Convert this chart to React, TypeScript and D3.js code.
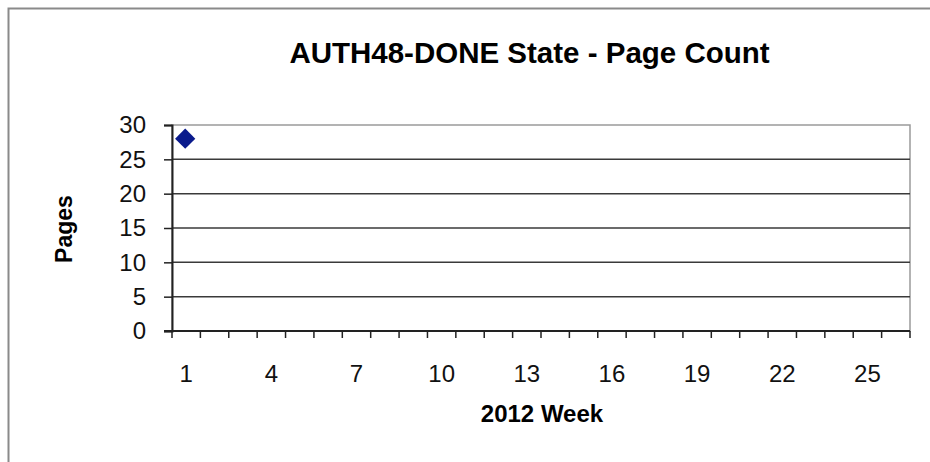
import React, { useEffect, useRef } from "react";
import * as d3 from "d3";

const weeks: number[] = Array.from({ length: 26 }, (_, i) => i + 1);
const labelWeeks: number[] = [1, 4, 7, 10, 13, 16, 19, 22, 25];
const pointWeeks: number[] = [1];
const pointPages: number[] = [28];
const yTicks: number[] = [0, 5, 10, 15, 20, 25, 30];
const title = "AUTH48-DONE State - Page Count";
const xTitle = "2012 Week";
const yTitle = "Pages";

const W = 930;
const H = 462;
const M = { left: 172, right: 910, top: 125, bottom: 331 };
const FONT = "'Liberation Sans', Arial, Helvetica, sans-serif";

export default function App() {
  const ref = useRef<SVGSVGElement | null>(null);

  useEffect(() => {
    const svg = d3.select(ref.current);
    svg.selectAll("*").remove();

    const x = d3.scaleBand<number>().domain(weeks).range([M.left, M.right]).padding(0);
    const y = d3.scaleLinear().domain([0, 30]).range([M.bottom, M.top]);

    svg.append("rect").attr("x", 0).attr("y", 0).attr("width", W).attr("height", H).attr("fill", "#fff");
    // outer chart frame
    svg.append("rect")
      .attr("x", 8.5).attr("y", 8.5).attr("width", 2000).attr("height", 2000)
      .attr("fill", "none").attr("stroke", "#8a8a8a").attr("stroke-width", 2);

    // plot border (top/right)
    svg.append("rect")
      .attr("x", M.left).attr("y", M.top)
      .attr("width", M.right - M.left).attr("height", M.bottom - M.top)
      .attr("fill", "none").attr("stroke", "#9a9a9a").attr("stroke-width", 1.5);

    // gridlines
    svg.append("g").selectAll("line")
      .data(yTicks.filter((t) => t > 0 && t < 30))
      .join("line")
      .attr("x1", M.left).attr("x2", M.right)
      .attr("y1", (d) => y(d)).attr("y2", (d) => y(d))
      .attr("stroke", "#3a3a3a").attr("stroke-width", 1.5);

    // y axis
    const yAxis = d3.axisLeft(y).tickValues(yTicks).tickSize(8).tickPadding(18).tickFormat(d3.format("d"));
    const gy = svg.append("g").attr("transform", `translate(${M.left},0)`).call(yAxis);
    gy.select(".domain").attr("stroke", "#222").attr("stroke-width", 2);
    gy.selectAll(".tick line").attr("stroke", "#222").attr("stroke-width", 1.5);
    gy.selectAll(".tick text").attr("font-family", FONT).attr("font-size", 24).attr("fill", "#111");

    // x axis: ticks at band boundaries
    svg.append("line")
      .attr("x1", M.left - 8).attr("x2", M.right)
      .attr("y1", M.bottom).attr("y2", M.bottom)
      .attr("stroke", "#222").attr("stroke-width", 2);
    const bounds = weeks.map((w) => x(w) as number).concat([M.right]);
    svg.append("g").selectAll("line")
      .data(bounds)
      .join("line")
      .attr("x1", (d) => d).attr("x2", (d) => d)
      .attr("y1", M.bottom).attr("y2", M.bottom + 7)
      .attr("stroke", "#222").attr("stroke-width", 1.5);
    svg.append("g").selectAll("text")
      .data(labelWeeks)
      .join("text")
      .attr("x", (d) => (x(d) as number) + x.bandwidth() / 2)
      .attr("y", 382)
      .attr("text-anchor", "middle")
      .attr("font-family", FONT).attr("font-size", 24).attr("fill", "#111")
      .text((d) => String(d));

    // points: square diamond (rotated square)
    const marker = d3.symbol().type(d3.symbolSquare).size(205);
    svg.append("g").selectAll("path")
      .data(pointWeeks.map((w, i) => ({ w, v: pointPages[i] })))
      .join("path")
      .attr("transform", (d) => `translate(${(x(d.w) as number) + x.bandwidth() / 2 - 1},${y(d.v)}) rotate(45)`)
      .attr("d", marker as any)
      .attr("fill", "#0a1a8c");

    // titles
    svg.append("text")
      .attr("x", 529.5).attr("y", 63)
      .attr("text-anchor", "middle")
      .attr("font-family", FONT).attr("font-weight", "bold").attr("font-size", 29.5).attr("fill", "#000")
      .text(title);
    svg.append("text")
      .attr("x", 542).attr("y", 421.5)
      .attr("text-anchor", "middle")
      .attr("font-family", FONT).attr("font-weight", "bold").attr("font-size", 24).attr("fill", "#000")
      .text(xTitle);
    svg.append("text")
      .attr("transform", "translate(72,229) rotate(-90)")
      .attr("text-anchor", "middle")
      .attr("font-family", FONT).attr("font-weight", "bold").attr("font-size", 23).attr("fill", "#000")
      .text(yTitle);
  }, []);

  return (
    <div style={{ position: "absolute", left: 0, top: 0 }}>
      <svg ref={ref} width={W} height={H} style={{ display: "block" }} />
    </div>
  );
}
